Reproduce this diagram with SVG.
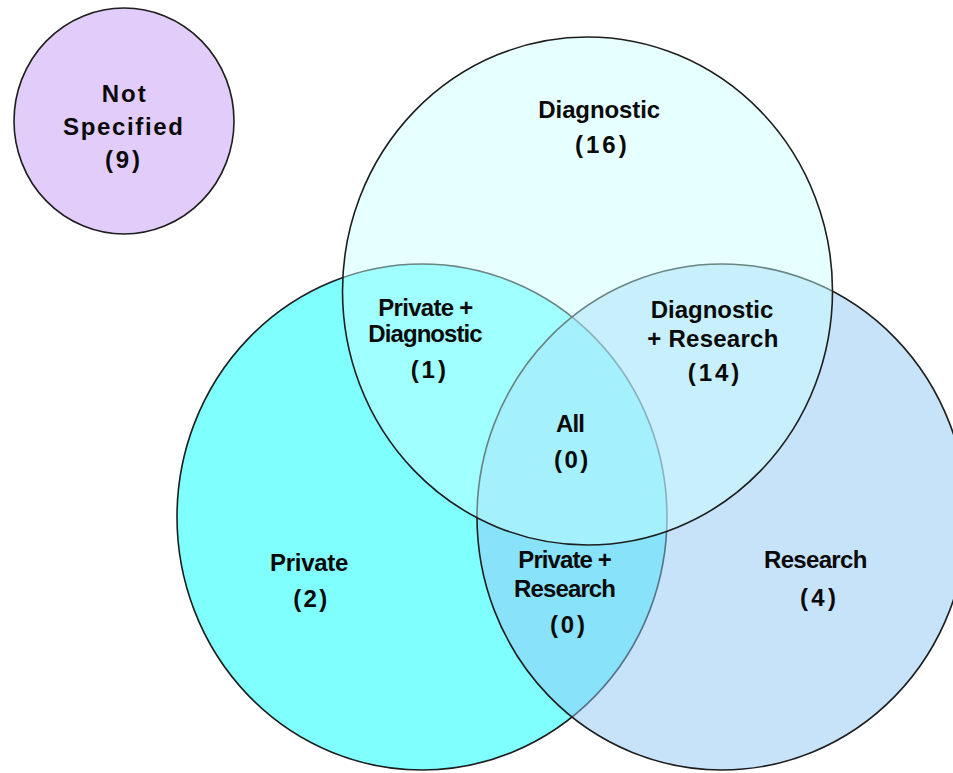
<svg xmlns="http://www.w3.org/2000/svg" width="953" height="773" viewBox="0 0 953 773">
  <style>
    .set { stroke: #1e1e1e; stroke-width: 1.6; }
    .lbl { font-family: "Liberation Sans", Arial, sans-serif; font-weight: bold; font-size: 24px; fill: #0a0a0a; text-anchor: middle; }
  </style>
  <rect x="0" y="0" width="953" height="773" fill="#ffffff"/>
  <g id="not-specified">
    <ellipse class="set" cx="124" cy="121" rx="110" ry="113" fill="#e2ccfa"/>
    <text class="lbl" x="123.7" y="101.7" textLength="44" lengthAdjust="spacing">Not</text>
    <text class="lbl" x="123" y="135" textLength="120" lengthAdjust="spacing">Specified</text>
    <text class="lbl" x="122.5" y="168.3" textLength="35" lengthAdjust="spacing">(9)</text>
  </g>
  <g id="private">
    <ellipse class="set" cx="422" cy="517" rx="245" ry="253" fill="#80ffff"/>
  </g>
  <g id="research">
    <ellipse class="set" cx="722" cy="517" rx="245" ry="253" fill="rgb(143,199,245)" fill-opacity="0.5"/>
  </g>
  <g id="diagnostic">
    <ellipse class="set" cx="587.5" cy="291" rx="245" ry="254" fill="rgb(199,255,255)" fill-opacity="0.45"/>
  </g>
  <g id="label-diagnostic">
    <text class="lbl" x="599.2" y="118.3" textLength="121.7" lengthAdjust="spacing">Diagnostic</text>
    <text class="lbl" x="600.8" y="153.3" textLength="51.7" lengthAdjust="spacing">(16)</text>
  </g>
  <g id="label-private-diagnostic">
    <text class="lbl" x="425.8" y="315.7" textLength="95" lengthAdjust="spacing">Private +</text>
    <text class="lbl" x="425.5" y="341.7" textLength="114.3" lengthAdjust="spacing">Diagnostic</text>
    <text class="lbl" x="428.3" y="378.3" textLength="35.3" lengthAdjust="spacing">(1)</text>
  </g>
  <g id="label-diagnostic-research">
    <text class="lbl" x="712" y="318.3" textLength="122.7" lengthAdjust="spacing">Diagnostic</text>
    <text class="lbl" x="712.8" y="346.7" textLength="131" lengthAdjust="spacing">+ Research</text>
    <text class="lbl" x="713.5" y="381" textLength="51.7" lengthAdjust="spacing">(14)</text>
  </g>
  <g id="label-all">
    <text class="lbl" x="570.5" y="431.7" textLength="29" lengthAdjust="spacing">All</text>
    <text class="lbl" x="571.2" y="468.3" textLength="34.3" lengthAdjust="spacing">(0)</text>
  </g>
  <g id="label-private">
    <text class="lbl" x="309.2" y="570.7" textLength="78.3" lengthAdjust="spacing">Private</text>
    <text class="lbl" x="310.3" y="606.7" textLength="34" lengthAdjust="spacing">(2)</text>
  </g>
  <g id="label-private-research">
    <text class="lbl" x="565" y="568.3" textLength="93.3" lengthAdjust="spacing">Private +</text>
    <text class="lbl" x="565" y="596.7" textLength="102" lengthAdjust="spacing">Research</text>
    <text class="lbl" x="567.5" y="633.3" textLength="35" lengthAdjust="spacing">(0)</text>
  </g>
  <g id="label-research">
    <text class="lbl" x="815.7" y="568.3" textLength="103.3" lengthAdjust="spacing">Research</text>
    <text class="lbl" x="818" y="606" textLength="36" lengthAdjust="spacing">(4)</text>
  </g>
</svg>
